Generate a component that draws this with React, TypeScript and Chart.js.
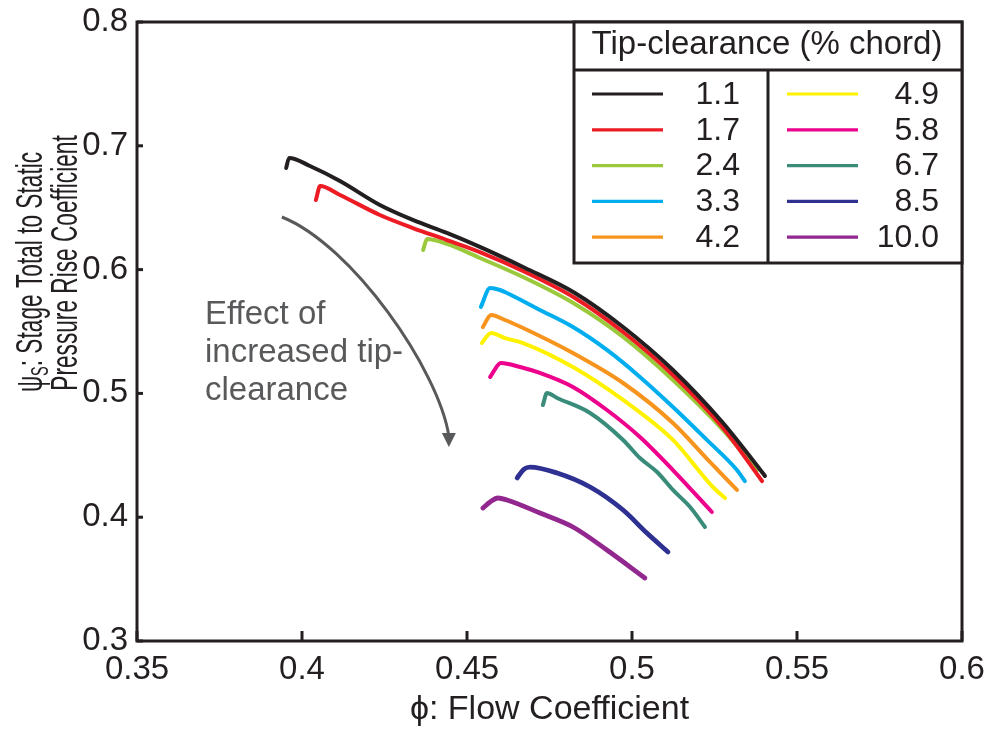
import React, { useEffect, useRef } from "react";
import { Chart, registerables } from "chart.js";

Chart.register(...registerables);

const FONT = '"Liberation Sans", Arial, Helvetica, sans-serif';
const INK = "#231f20";
const GRAY = "#58595b";

// Tip-clearance series (% chord)
const clearances = ["1.1", "1.7", "2.4", "3.3", "4.2", "4.9", "5.8", "6.7", "8.5", "10.0"];
const seriesColors = ["#231f20", "#ed1c24", "#9bc93c", "#00aeef", "#f7941d", "#fff200", "#ec008c", "#3a8c7a", "#2e3192", "#92278f"];

const phi_1_1 = [0.3952, 0.3961, 0.4024, 0.4115, 0.4236, 0.4336, 0.4439, 0.4539, 0.4676, 0.4827, 0.4973, 0.5124, 0.5276, 0.5342, 0.5403];
const psi_1_1 = [0.6821, 0.6902, 0.6837, 0.6716, 0.6522, 0.6401, 0.6296, 0.6183, 0.6013, 0.5811, 0.5536, 0.5189, 0.4761, 0.4543, 0.4333];

const phi_1_7 = [0.4042, 0.4055, 0.4115, 0.4236, 0.4336, 0.4439, 0.4539, 0.4676, 0.4827, 0.4973, 0.5124, 0.5276, 0.5394];
const psi_1_7 = [0.6562, 0.6675, 0.6603, 0.6441, 0.6336, 0.6239, 0.6142, 0.5981, 0.5771, 0.5496, 0.5149, 0.4721, 0.4292];

const phi_2_4 = [0.4367, 0.4379, 0.4439, 0.4539, 0.4676, 0.4827, 0.4973, 0.5124, 0.5276, 0.5379];
const psi_2_4 = [0.6158, 0.6247, 0.6207, 0.6094, 0.5932, 0.5722, 0.5456, 0.5108, 0.4704, 0.4381];

const phi_3_3 = [0.4542, 0.457, 0.46, 0.4621, 0.4721, 0.4821, 0.4924, 0.5024, 0.5124, 0.5227, 0.5318, 0.5342];
const psi_3_3 = [0.5698, 0.5851, 0.5835, 0.5811, 0.5674, 0.5536, 0.5351, 0.5133, 0.489, 0.4624, 0.4381, 0.4292];

const phi_4_2 = [0.4548, 0.4573, 0.4615, 0.467, 0.4821, 0.4973, 0.5124, 0.5236, 0.5318];
const psi_4_2 = [0.5536, 0.5633, 0.5593, 0.5528, 0.5326, 0.5084, 0.4761, 0.4446, 0.422];

const phi_4_9 = [0.4545, 0.4573, 0.4615, 0.467, 0.4821, 0.4973, 0.5124, 0.5245, 0.5282];
const psi_4_9 = [0.5407, 0.5488, 0.5447, 0.5407, 0.5213, 0.4947, 0.4624, 0.4244, 0.4155];

const phi_5_8 = [0.457, 0.4603, 0.4661, 0.4721, 0.4821, 0.4924, 0.5024, 0.5124, 0.5242];
const psi_5_8 = [0.5133, 0.5246, 0.5213, 0.5165, 0.5052, 0.4866, 0.4648, 0.4381, 0.4042];

const phi_6_7 = [0.473, 0.4742, 0.4773, 0.4873, 0.4973, 0.5024, 0.5076, 0.5124, 0.5176, 0.5221];
const psi_6_7 = [0.4906, 0.5003, 0.4963, 0.4842, 0.4624, 0.4478, 0.4365, 0.422, 0.4082, 0.3921];

const phi_8_5 = [0.4652, 0.4673, 0.4691, 0.4773, 0.4873, 0.4973, 0.5045, 0.5109];
const psi_8_5 = [0.4317, 0.4389, 0.4405, 0.4357, 0.4244, 0.4058, 0.3872, 0.3719];

const phi_10_0 = [0.4548, 0.457, 0.4594, 0.4621, 0.4721, 0.4821, 0.4924, 0.5039];
const psi_10_0 = [0.4074, 0.4123, 0.4155, 0.4139, 0.4034, 0.3921, 0.3735, 0.3509];

const phiSeries = [phi_1_1, phi_1_7, phi_2_4, phi_3_3, phi_4_2, phi_4_9, phi_5_8, phi_6_7, phi_8_5, phi_10_0];
const psiSeries = [psi_1_1, psi_1_7, psi_2_4, psi_3_3, psi_4_2, psi_4_9, psi_5_8, psi_6_7, psi_8_5, psi_10_0];

const xTickValues = [0.35, 0.4, 0.45, 0.5, 0.55, 0.6];
const xTickLabels = ["0.35", "0.4", "0.45", "0.5", "0.55", "0.6"];
const yTickValues = [0.3, 0.4, 0.5, 0.6, 0.7, 0.8];
const yTickLabels = ["0.3", "0.4", "0.5", "0.6", "0.7", "0.8"];

const xTitle = "\u03d5: Flow Coefficient";
const yTitleLine1a = "\u03c8";
const yTitleSub = "S";
const yTitleLine1b = ": Stage Total to Static";
const yTitleLine2 = "Pressure Rise Coefficient";
const legendTitle = "Tip-clearance (% chord)";

// annotation (data coordinates)
const noteLines = ["Effect of", "increased tip-", "clearance"];
const notePhi = 0.3706;
const notePsi = [0.5561, 0.5254, 0.4947];
const arrowPhi = [0.3939, 0.4152, 0.4414, 0.4445];
const arrowPsi = [0.6425, 0.6199, 0.5189, 0.4656];
const arrowTip = { phi: 0.4445, psi: 0.4567 };

const decoPlugin = {
  id: "deco",
  afterDraw(chart: any) {
    const { ctx, chartArea: a, scales } = chart;
    const xs = scales.x;
    const ys = scales.y;
    ctx.save();

    // annotation arrow + text
    ctx.strokeStyle = GRAY;
    ctx.fillStyle = GRAY;
    ctx.lineWidth = 3;
    ctx.lineCap = "butt";
    const ap = arrowPhi.map((p, i) => [xs.getPixelForValue(p), ys.getPixelForValue(arrowPsi[i])]);
    ctx.beginPath();
    ctx.moveTo(ap[0][0], ap[0][1]);
    ctx.bezierCurveTo(ap[1][0], ap[1][1], ap[2][0], ap[2][1], ap[3][0], ap[3][1]);
    ctx.stroke();
    const tx = xs.getPixelForValue(arrowTip.phi);
    const ty = ys.getPixelForValue(arrowTip.psi);
    ctx.beginPath();
    ctx.moveTo(tx, ty);
    ctx.lineTo(tx - 7, ty - 14);
    ctx.lineTo(tx + 7, ty - 14);
    ctx.closePath();
    ctx.fill();
    ctx.font = `33px ${FONT}`;
    ctx.textAlign = "left";
    ctx.textBaseline = "alphabetic";
    noteLines.forEach((t, i) => {
      ctx.fillText(t, xs.getPixelForValue(notePhi), ys.getPixelForValue(notePsi[i]));
    });

    // frame and inward ticks
    ctx.strokeStyle = INK;
    ctx.lineWidth = 3;
    ctx.lineCap = "butt";
    xTickValues.forEach((v) => {
      const px = xs.getPixelForValue(v);
      ctx.beginPath();
      ctx.moveTo(px, a.bottom);
      ctx.lineTo(px, a.bottom - 10);
      ctx.stroke();
    });
    yTickValues.forEach((v) => {
      const py = ys.getPixelForValue(v);
      ctx.beginPath();
      ctx.moveTo(a.left, py);
      ctx.lineTo(a.left + 6, py);
      ctx.stroke();
    });
    ctx.strokeRect(a.left, a.top, a.right - a.left, a.bottom - a.top);

    // legend box
    const L = a.right - 388;
    const R = a.right;
    const T = a.top;
    const B = a.top + 241;
    const H = a.top + 48;
    const D = a.right - 194;
    ctx.fillStyle = "#ffffff";
    ctx.fillRect(L, T, R - L, B - T);
    ctx.strokeStyle = INK;
    ctx.lineWidth = 3;
    ctx.strokeRect(L, T, R - L, B - T);
    ctx.beginPath();
    ctx.moveTo(L, H);
    ctx.lineTo(R, H);
    ctx.moveTo(D, H);
    ctx.lineTo(D, B);
    ctx.stroke();
    ctx.fillStyle = INK;
    ctx.font = `33px ${FONT}`;
    ctx.textAlign = "center";
    ctx.textBaseline = "middle";
    ctx.fillText(legendTitle, (L + R) / 2 - 1, T + 23);
    ctx.font = `32px ${FONT}`;
    ctx.textAlign = "right";
    chart.data.datasets.forEach((ds: any, i: number) => {
      const col = i < 5 ? 0 : 1;
      const row = i % 5;
      const y = T + 72 + row * 35.8;
      const x0 = col === 0 ? L + 18 : D + 19;
      ctx.strokeStyle = ds.borderColor;
      ctx.lineWidth = 3.2;
      ctx.beginPath();
      ctx.moveTo(x0, y);
      ctx.lineTo(x0 + 71, y);
      ctx.stroke();
      ctx.fillStyle = INK;
      ctx.fillText(ds.label, col === 0 ? L + 166 : D + 171, y + 1);
    });

    // axis titles
    ctx.fillStyle = INK;
    ctx.font = `34px ${FONT}`;
    ctx.textAlign = "center";
    ctx.textBaseline = "alphabetic";
    ctx.fillText(xTitle, (a.left + a.right) / 2, 719);

    const squeeze = 0.63;
    // line 2
    ctx.save();
    ctx.translate(77, 263);
    ctx.rotate(-Math.PI / 2);
    ctx.scale(squeeze, 1);
    ctx.font = `36px ${FONT}`;
    ctx.textAlign = "center";
    ctx.fillText(yTitleLine2, 0, 0);
    ctx.restore();
    // line 1 with subscript
    ctx.save();
    ctx.translate(42, 272);
    ctx.rotate(-Math.PI / 2);
    ctx.scale(squeeze, 1);
    ctx.textAlign = "left";
    ctx.font = `36px ${FONT}`;
    const wA = ctx.measureText(yTitleLine1a).width;
    const wB = ctx.measureText(yTitleLine1b).width;
    ctx.font = `23px ${FONT}`;
    const wS = ctx.measureText(yTitleSub).width;
    let cx = -(wA + wS + wB) / 2;
    ctx.font = `36px ${FONT}`;
    ctx.fillText(yTitleLine1a, cx, 0);
    cx += wA;
    ctx.font = `23px ${FONT}`;
    ctx.fillText(yTitleSub, cx, 6);
    cx += wS;
    ctx.font = `36px ${FONT}`;
    ctx.fillText(yTitleLine1b, cx, 0);
    ctx.restore();

    ctx.restore();
  },
};

export default function App() {
  const ref = useRef<HTMLCanvasElement>(null);
  useEffect(() => {
    document.body.style.margin = "0";
    const datasets = clearances.map((label, i) => ({
      label,
      data: phiSeries[i].map((x, j) => ({ x, y: psiSeries[i][j] })),
      borderColor: seriesColors[i],
      backgroundColor: seriesColors[i],
      borderWidth: i >= 8 ? 4.8 : 4,
      showLine: true,
      pointRadius: 0,
      fill: false,
      cubicInterpolationMode: "monotone" as const,
      borderCapStyle: "round" as const,
      borderJoinStyle: "round" as const,
    }));
    const chart = new Chart(ref.current as HTMLCanvasElement, {
      type: "scatter",
      data: { datasets },
      plugins: [decoPlugin],
      options: {
        animation: false,
        responsive: false,
        events: [],
        layout: { padding: { top: 22, right: 29, left: 0, bottom: 0 } },
        plugins: { legend: { display: false }, tooltip: { enabled: false } },
        scales: {
          x: {
            type: "linear",
            min: 0.35,
            max: 0.6,
            grid: { display: false, drawTicks: false },
            border: { display: false },
            afterBuildTicks: (s: any) => {
              s.ticks = xTickValues.map((v) => ({ value: v }));
            },
            afterFit: (s: any) => {
              s.height = 88;
              s.paddingLeft = 0;
              s.paddingRight = 0;
            },
            ticks: {
              padding: 9,
              maxRotation: 0,
              autoSkip: false,
              color: INK,
              font: { family: FONT, size: 33 },
              callback: (v: any) => {
                const k = xTickValues.findIndex((t) => Math.abs(t - Number(v)) < 1e-9);
                return k >= 0 ? xTickLabels[k] : "";
              },
            },
          },
          y: {
            type: "linear",
            min: 0.3,
            max: 0.8,
            grid: { display: false, drawTicks: false },
            border: { display: false },
            afterBuildTicks: (s: any) => {
              s.ticks = yTickValues.map((v) => ({ value: v }));
            },
            afterFit: (s: any) => {
              s.width = 137;
              s.paddingTop = 0;
              s.paddingBottom = 0;
            },
            ticks: {
              padding: 9,
              autoSkip: false,
              color: INK,
              font: { family: FONT, size: 33 },
              callback: (v: any) => {
                const k = yTickValues.findIndex((t) => Math.abs(t - Number(v)) < 1e-9);
                return k >= 0 ? yTickLabels[k] : "";
              },
            },
          },
        },
      },
    } as any);
    return () => chart.destroy();
  }, []);
  return (
    <div style={{ width: 991, height: 729 }}>
      <canvas ref={ref} width={991} height={729} style={{ display: "block" }} />
    </div>
  );
}
